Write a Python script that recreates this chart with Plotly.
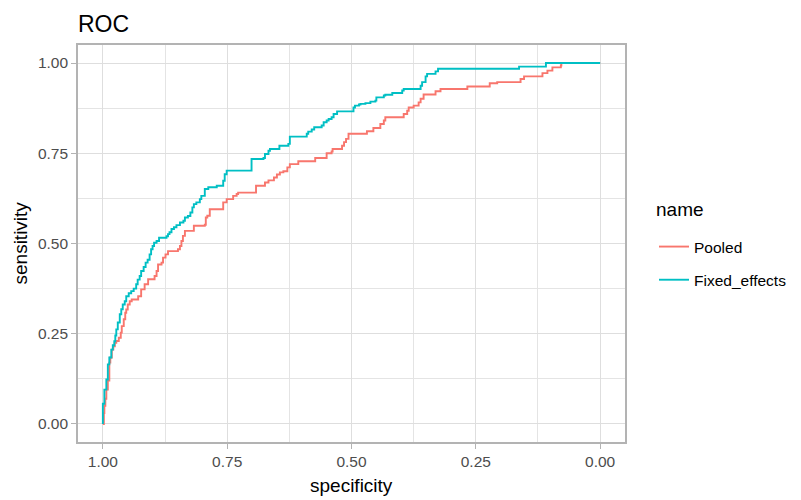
import plotly.graph_objects as go

# ---- data ----
pooled_spec = [1.0, 1.0, 0.998, 0.997, 0.995, 0.993, 0.990, 0.987, 0.985, 0.982, 0.979, 0.976, 0.973,
               0.968, 0.964, 0.962, 0.958, 0.955, 0.953, 0.950, 0.946, 0.942, 0.929, 0.923, 0.916,
               0.909, 0.899, 0.896, 0.892, 0.889, 0.882, 0.879, 0.874, 0.869, 0.849, 0.845, 0.842,
               0.839, 0.835, 0.819, 0.817, 0.805, 0.795, 0.793, 0.790, 0.785, 0.761, 0.758, 0.751,
               0.738, 0.731, 0.728, 0.694, 0.692, 0.674, 0.667, 0.656, 0.650, 0.644, 0.637, 0.629,
               0.624, 0.607, 0.573, 0.550, 0.540, 0.538, 0.519, 0.515, 0.511, 0.506, 0.469, 0.456,
               0.442, 0.435, 0.432, 0.395, 0.388, 0.385, 0.375, 0.365, 0.361, 0.355, 0.331, 0.321,
               0.267, 0.222, 0.207, 0.160, 0.153, 0.116, 0.106, 0.096, 0.079, 0.078, 0.0]
pooled_sens = [0.0, 0.0, 0.030, 0.050, 0.070, 0.095, 0.120, 0.170, 0.184, 0.206, 0.215, 0.225, 0.230,
               0.239, 0.253, 0.271, 0.290, 0.308, 0.317, 0.331, 0.340, 0.345, 0.354, 0.373, 0.387,
               0.401, 0.401, 0.410, 0.424, 0.442, 0.447, 0.461, 0.470, 0.479, 0.484, 0.493, 0.507,
               0.521, 0.535, 0.535, 0.549, 0.549, 0.552, 0.572, 0.577, 0.595, 0.595, 0.614, 0.623,
               0.632, 0.637, 0.641, 0.641, 0.660, 0.669, 0.675, 0.683, 0.691, 0.697, 0.700, 0.711,
               0.720, 0.728, 0.737, 0.750, 0.755, 0.762, 0.771, 0.781, 0.790, 0.804, 0.811, 0.820,
               0.831, 0.841, 0.850, 0.859, 0.868, 0.877, 0.882, 0.891, 0.901, 0.913, 0.922, 0.928,
               0.935, 0.944, 0.947, 0.956, 0.963, 0.972, 0.979, 0.988, 0.993, 1.0, 1.0]

fixed_spec = [1.0, 1.0, 0.997, 0.993, 0.990, 0.987, 0.983, 0.980, 0.977, 0.975, 0.973, 0.970, 0.966,
              0.963, 0.960, 0.956, 0.953, 0.953, 0.948, 0.943, 0.938, 0.933, 0.930, 0.926, 0.923,
              0.918, 0.914, 0.910, 0.906, 0.903, 0.900, 0.897, 0.892, 0.887, 0.872, 0.869, 0.866,
              0.862, 0.857, 0.852, 0.845, 0.838, 0.835, 0.829, 0.824, 0.820, 0.817, 0.812, 0.805,
              0.802, 0.795, 0.788, 0.771, 0.758, 0.755, 0.751, 0.701, 0.677, 0.674, 0.667, 0.664,
              0.645, 0.627, 0.624, 0.590, 0.587, 0.580, 0.575, 0.560, 0.556, 0.550, 0.546, 0.540,
              0.536, 0.529, 0.496, 0.493, 0.485, 0.482, 0.472, 0.462, 0.452, 0.450, 0.435, 0.432,
              0.418, 0.415, 0.398, 0.395, 0.388, 0.361, 0.358, 0.351, 0.348, 0.331, 0.326, 0.311,
              0.163, 0.109, 0.0]
fixed_sens = [0.0, 0.056, 0.095, 0.123, 0.165, 0.184, 0.206, 0.218, 0.229, 0.245, 0.262, 0.281, 0.304,
              0.318, 0.331, 0.340, 0.345, 0.354, 0.362, 0.368, 0.375, 0.387, 0.400, 0.410, 0.424,
              0.435, 0.447, 0.455, 0.470, 0.484, 0.493, 0.502, 0.507, 0.516, 0.520, 0.526, 0.531,
              0.540, 0.545, 0.551, 0.558, 0.563, 0.572, 0.576, 0.586, 0.600, 0.609, 0.614, 0.623,
              0.632, 0.651, 0.656, 0.660, 0.674, 0.692, 0.702, 0.734, 0.737, 0.748, 0.757, 0.762,
              0.771, 0.776, 0.796, 0.804, 0.810, 0.816, 0.822, 0.827, 0.836, 0.841, 0.845, 0.850,
              0.859, 0.866, 0.877, 0.882, 0.885, 0.887, 0.889, 0.893, 0.896, 0.905, 0.910, 0.912,
              0.917, 0.917, 0.924, 0.928, 0.928, 0.937, 0.947, 0.963, 0.970, 0.977, 0.984, 0.984,
              0.990, 1.0, 1.0]

series_names = ["Pooled", "Fixed_effects"]
series_colors = ["#F8766D", "#00BFC4"]
x_ticks = [1.0, 0.75, 0.5, 0.25, 0.0]
x_tick_labels = ["1.00", "0.75", "0.50", "0.25", "0.00"]
y_ticks = [0.0, 0.25, 0.5, 0.75, 1.0]
y_tick_labels = ["0.00", "0.25", "0.50", "0.75", "1.00"]

FONT = "Arial, Liberation Sans, sans-serif"

fig = go.Figure()
for name, color, xs, ys, grp in [
    (series_names[0], series_colors[0], pooled_spec, pooled_sens, "g1"),
    (series_names[1], series_colors[1], fixed_spec, fixed_sens, "g2"),
]:
    fig.add_trace(go.Scatter(
        x=xs, y=ys, mode="lines", name=name, legendgroup=grp,
        line=dict(color=color, width=1.9, shape="hv"),
    ))

axis_common = dict(
    showline=True, mirror=True, linecolor="#b3b3b3", linewidth=1.6,
    showgrid=True, gridcolor="#dedede", gridwidth=1.3,
    ticks="outside", ticklen=5, tickcolor="#b3b3b3", tickwidth=1,
    tickfont=dict(family=FONT, size=15.5, color="#4d4d4d"),
    zeroline=False, automargin=False,
    minor=dict(dtick=0.125, tick0=0, showgrid=True, gridcolor="#e4e4e4", gridwidth=0.9, ticks=""),
)

fig.update_layout(
    width=801, height=500,
    margin=dict(l=78, r=176, t=45, b=58, autoexpand=False),
    paper_bgcolor="white", plot_bgcolor="white",
    font=dict(family=FONT, color="black"),
    title=dict(text="ROC", x=78 / 801, xanchor="left", xref="container",
               y=1 - 23.5 / 500, yanchor="middle", yref="container",
               font=dict(family=FONT, size=23, color="black")),
    xaxis=dict(range=[1.05, -0.05], tickvals=x_ticks, ticktext=x_tick_labels, **axis_common),
    yaxis=dict(range=[-0.05, 1.05], tickvals=y_ticks, ticktext=y_tick_labels, **axis_common),
    showlegend=True,
    legend=dict(
        x=(654 - 78) / 547, xanchor="left", y=(442 - 230) / 397, yanchor="top",
        font=dict(family=FONT, size=15.5, color="black"),
        tracegroupgap=10, bgcolor="rgba(0,0,0,0)",
    ),
    annotations=[
        dict(text="name", xref="paper", yref="paper", x=(654 - 78) / 547, y=(442 - 209) / 397,
             xanchor="left", yanchor="middle", showarrow=False,
             font=dict(family=FONT, size=19, color="black")),
        dict(text="specificity", xref="paper", yref="paper", x=0.5, y=(442 - 485) / 397,
             xanchor="center", yanchor="middle", showarrow=False,
             font=dict(family=FONT, size=19, color="black")),
        dict(text="sensitivity", xref="paper", yref="paper", x=(20 - 78) / 547, y=0.5,
             xanchor="center", yanchor="middle", showarrow=False, textangle=-90,
             font=dict(family=FONT, size=19, color="black")),
    ],
)

fig.write_html("out.html")
